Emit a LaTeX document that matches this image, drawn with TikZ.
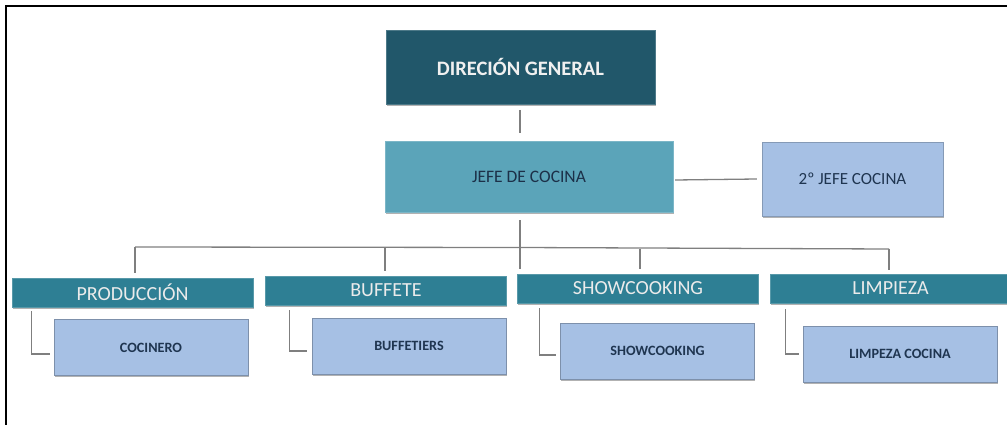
\documentclass[tikz,border=0pt]{standalone}
\usepackage{fontspec}
\setmainfont{Carlito}
\usetikzlibrary{shadows}
\definecolor{darkteal}{HTML}{21576A}
\definecolor{midteal}{HTML}{5BA4B9}
\definecolor{headteal}{HTML}{2E7F94}
\definecolor{paleblue}{HTML}{A6C0E4}
\definecolor{navytext}{HTML}{1F3550}
\definecolor{linegray}{HTML}{7F7F7F}
\tikzset{
  boxbase/.style={rectangle, inner sep=0pt, align=center,
    drop shadow={shadow xshift=0.8pt, shadow yshift=-1.6pt, opacity=0.3, fill=black}},
  topbox/.style={boxbase, fill=darkteal, draw=darkteal!80!white, text=white!94!black,
    font=\fontsize{20.5}{24}\selectfont\bfseries},
  chiefbox/.style={boxbase, fill=midteal, draw=midteal!80!white, text=navytext!90!black,
    font=\fontsize{17.5}{21}\selectfont},
  palebox/.style={boxbase, fill=paleblue, draw=paleblue!80!black, text=navytext,
    font=\fontsize{17}{20}\selectfont},
  headbox/.style={boxbase, fill=headteal, draw=headteal!80!white, text=white!92!black,
    minimum width=241pt, minimum height=29pt, font=\fontsize{20}{23}\selectfont},
  staffbox/.style={boxbase, fill=paleblue, draw=paleblue!75!black, text=navytext,
    minimum width=194pt, minimum height=56pt, font=\fontsize{14.2}{17}\selectfont\bfseries},
  conn/.style={draw=linegray, line width=1.3pt},
  frameline/.style={draw=black, line width=2pt}
}
\begin{document}
\begin{tikzpicture}[x=1pt, y=-1pt]
\useasboundingbox (0,0) rectangle (1007,425);

% page frame (top and left rules)
\draw[frameline] (6,425) -- (6,6) -- (1007,6);

% top levels
\node[topbox, minimum width=269pt, minimum height=74pt] (dg) at (520.5,67) {DIRECIÓN GENERAL};
\node[chiefbox, minimum width=288pt, minimum height=71pt] (jefe) at (529,176.5) {JEFE DE COCINA};
\node[palebox, minimum width=181pt, minimum height=74pt] (seg) at (852.5,179) {2º JEFE COCINA};

% departments
\node[headbox] (prod) at (132.5,292.5) {PRODUCCIÓN};
\node[headbox] (buf)  at (386,290.5)  {BUFFETE};
\node[headbox] (show) at (638,288.5)  {SHOWCOOKING};
\node[headbox] (limp) at (890.5,288.5) {LIMPIEZA};

% staff
\node[staffbox] (coc) at (151,347.5) {COCINERO};
\node[staffbox] (bft) at (409,346)   {BUFFETIERS};
\node[staffbox] (shc) at (657.5,351) {SHOWCOOKING};
\node[staffbox] (lc)  at (900,354)   {LIMPEZA COCINA};

% trunk and bus coordinates
\coordinate (trunk) at (520,220);
\coordinate (trunkend) at (520,269);
\coordinate (busL) at (135,247);
\coordinate (busR) at (889,249);

% connectors between levels
\draw[conn] (520,110) -- (520,133);
\draw[conn] ([xshift=2pt]jefe.east |- 0,180) -- ([xshift=-5pt]seg.west |- 0,179);
\draw[conn] (trunk) -- (trunkend);
\draw[conn] (busL) -- (520,247.5) -- (busR);
\draw[conn] (busL) -- (135,273);
\draw[conn] (385,247.5) -- ([yshift=5pt]buf.north -| 385,0);
\draw[conn] (640,248.5) -- ([yshift=5pt]show.north -| 640,0);
\draw[conn] (busR) -- ([yshift=4pt]limp.north -| busR);

% elbows to staff boxes
\draw[conn] ([xshift=20pt,yshift=-4pt]prod.south west) |- ([xshift=-4pt,yshift=-6.5pt]coc.west);
\draw[conn] ([xshift=24pt,yshift=-5pt]buf.south west) |- ([xshift=-5pt,yshift=-5pt]bft.west);
\draw[conn] ([xshift=22pt,yshift=-5pt]show.south west) |- ([xshift=-4pt,yshift=-4pt]shc.west);
\draw[conn] ([xshift=16pt,yshift=-6pt]limp.south west) |- ([xshift=-4pt,yshift=0pt]lc.west);
\end{tikzpicture}
\end{document}
